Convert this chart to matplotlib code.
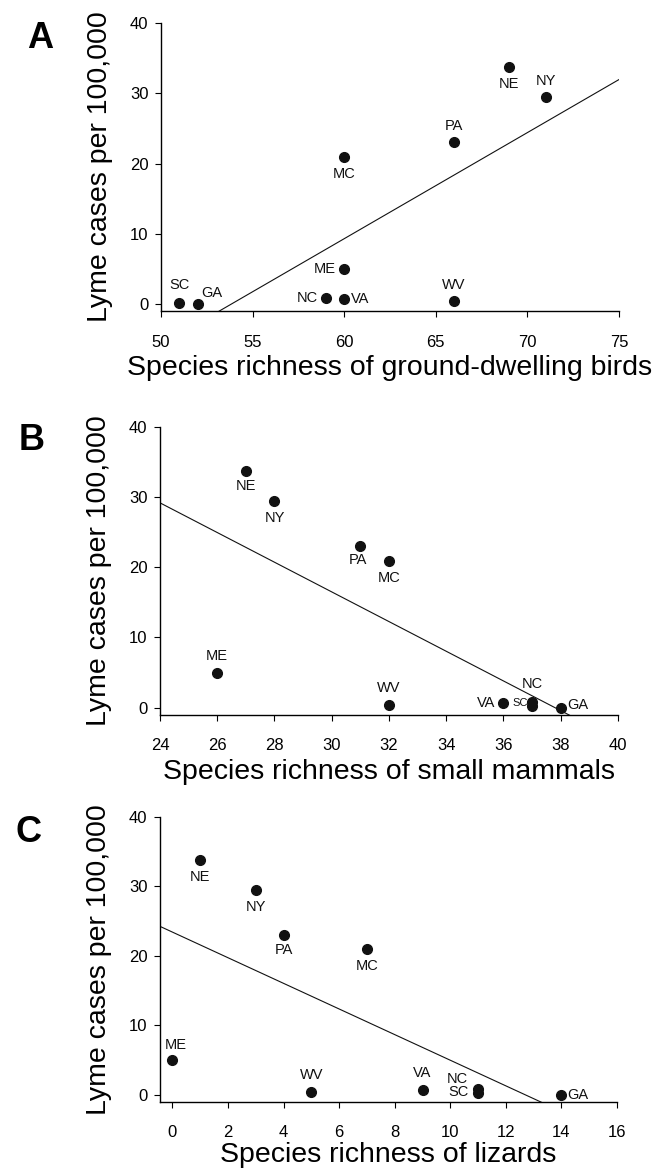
import matplotlib
matplotlib.use('Agg')
import matplotlib.pyplot as plt
import numpy as np

plt.rcParams['font.family'] = ['Liberation Sans', 'DejaVu Sans']

# Lyme cases per 100,000 by state (same in all three panels)
states = ['NE', 'NY', 'PA', 'MC', 'ME', 'WV', 'VA', 'NC', 'SC', 'GA']
lyme_cases = [33.7, 29.4, 23.0, 20.9, 5.0, 0.4, 0.7, 0.8, 0.2, 0.0]

# species richness per state, same order as states
birds = [69, 71, 66, 60, 60, 66, 60, 59, 51, 52]
mammals = [27, 28, 31, 32, 26, 32, 36, 37, 37, 38]
lizards = [1, 3, 4, 7, 0, 5, 9, 11, 11, 14]

y_ticks = [0, 10, 20, 30, 40]
birds_ticks = [50, 55, 60, 65, 70, 75]
mammals_ticks = [24, 26, 28, 30, 32, 34, 36, 38, 40]
lizards_ticks = [0, 2, 4, 6, 8, 10, 12, 14, 16]

# label placement: (dx, dy in points, ha, fontsize), text vertically centred
below = (0, -12, 'center', 10.5)
above = (0, 12, 'center', 10.5)
place_a = {
    'SC': (0, 13, 'center', 10.5), 'GA': (10, 8, 'center', 10.5),
    'NC': (-6, 0, 'right', 10.5), 'VA': (5, 0, 'left', 10.5),
    'ME': (-6, 0, 'right', 10.5), 'MC': below, 'PA': above,
    'WV': above, 'NE': below, 'NY': above,
}
place_b = {
    'NE': (0, -11, 'center', 10.5), 'NY': below, 'PA': (-2, -10, 'center', 10.5),
    'MC': below, 'ME': above, 'WV': above, 'VA': (-6, 0, 'right', 10.5),
    'NC': (0, 13, 'center', 10.5), 'SC': (-3, 2, 'right', 8),
    'GA': (5, 2, 'left', 10.5),
}
place_c = {
    'NE': below, 'NY': below, 'PA': (0, -11, 'center', 10.5), 'MC': below,
    'ME': (2, 11, 'center', 10.5), 'WV': above, 'VA': above,
    'NC': (-7, 7, 'right', 10.5), 'SC': (-7, 1, 'right', 10.5),
    'GA': (4, 0, 'left', 10.5),
}


def panel(ax, x, xticks, xlim, xlabel, place, xpad=4):
    x = np.asarray(x, float)
    y = np.asarray(lyme_cases, float)
    ax.set_xlim(*xlim)
    ax.set_ylim(-1, 40)
    slope, icpt = np.polyfit(x, y, 1)
    xx = np.array(xlim)
    ax.plot(xx, slope * xx + icpt, color='#111111', lw=0.8)
    ax.plot(x, y, 'o', color='#111111', ms=7, clip_on=False, zorder=3)
    for s, xi, yi in zip(states, x, y):
        dx, dy, ha, fs = place[s]
        ax.annotate(s, (xi, yi), xytext=(dx, dy), textcoords='offset points',
                    ha=ha, va='center', fontsize=fs, color='#111111')
    ax.set_xticks(xticks)
    ax.set_yticks(y_ticks)
    for sp in ['top', 'right']:
        ax.spines[sp].set_visible(False)
    for sp in ['left', 'bottom']:
        ax.spines[sp].set_linewidth(1.0)
    ax.tick_params(axis='both', direction='out', length=4, width=0.8, labelsize=12)
    ax.tick_params(axis='x', pad=13)
    ax.tick_params(axis='y', pad=5)
    ax.set_xlabel(xlabel, fontsize=20.5, labelpad=xpad)
    ax.set_ylabel('Lyme cases per 100,000', fontsize=20.5, labelpad=12)


fig = plt.figure(figsize=(6.66, 11.68), dpi=100)
ax_a = fig.add_axes([0.2417, 0.7337, 0.6877, 0.2466])
ax_b = fig.add_axes([0.2402, 0.3881, 0.6877, 0.2466])
ax_c = fig.add_axes([0.2402, 0.0568, 0.6862, 0.2440])

panel(ax_a, birds, birds_ticks, (50, 75),
      'Species richness of ground-dwelling birds', place_a)
panel(ax_b, mammals, mammals_ticks, (24, 40),
      'Species richness of small mammals', place_b)
panel(ax_c, lizards, lizards_ticks, (-0.45, 16),
      'Species richness of lizards', place_c, xpad=1)

fig.text(40 / 666, 1 - 38 / 1168, 'A', fontsize=26, fontweight='bold', ha='center', va='center')
fig.text(32 / 666, 1 - 441 / 1168, 'B', fontsize=26, fontweight='bold', ha='center', va='center')
fig.text(28 / 666, 1 - 832 / 1168, 'C', fontsize=26, fontweight='bold', ha='center', va='center')

fig.savefig('out.png', dpi=100)
